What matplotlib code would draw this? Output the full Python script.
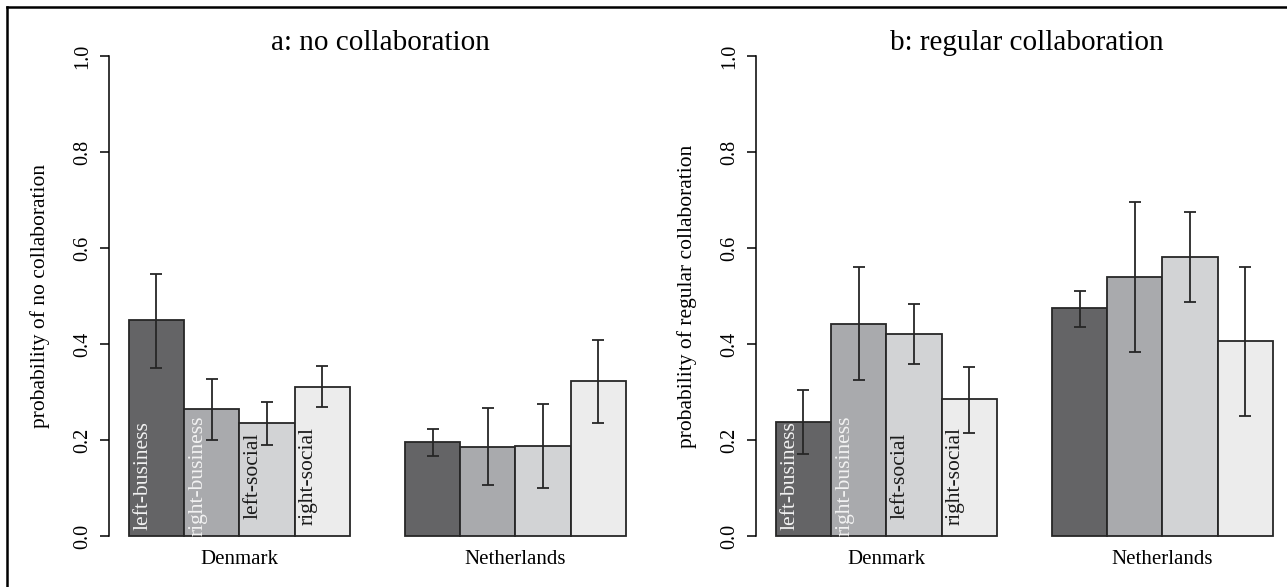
import numpy as np
import matplotlib
matplotlib.use('Agg')
import matplotlib.pyplot as plt
from matplotlib.lines import Line2D

plt.rcParams['font.family'] = ['Liberation Serif', 'DejaVu Serif']

countries = ['Denmark', 'Netherlands']
party_types = ['left-business', 'right-business', 'left-social', 'right-social']

# estimates and interval bounds, one row per country
no_collab = [[0.449, 0.264, 0.235, 0.311],
             [0.195, 0.185, 0.188, 0.322]]
no_collab_lo = [[0.350, 0.199, 0.190, 0.268],
                [0.167, 0.106, 0.100, 0.235]]
no_collab_hi = [[0.546, 0.327, 0.279, 0.354],
                [0.223, 0.266, 0.275, 0.409]]

reg_collab = [[0.238, 0.442, 0.421, 0.285],
              [0.474, 0.540, 0.581, 0.407]]
reg_collab_lo = [[0.171, 0.324, 0.359, 0.215],
                 [0.435, 0.383, 0.487, 0.251]]
reg_collab_hi = [[0.305, 0.560, 0.484, 0.353],
                 [0.511, 0.696, 0.676, 0.561]]

bar_colors = ['#646466', '#a9aaad', '#d2d3d5', '#ececec']
label_colors = ['#f2f2f2', '#f2f2f2', '#1a1a1a', '#1a1a1a']
edge = '#262626'

W, H = 1287, 587
fig = plt.figure(figsize=(W / 100, H / 100), dpi=100)


def panel(rect, vals, lo, hi, title, ylabel):
    ax = fig.add_axes(rect)
    for g in range(len(countries)):
        left = 1 + 5 * g + np.arange(len(party_types))
        v = np.array(vals[g])
        ax.bar(left, v, width=1, align='edge', color=bar_colors,
               edgecolor=edge, linewidth=1.3, zorder=2)
        err = [v - np.array(lo[g]), np.array(hi[g]) - v]
        ax.errorbar(left + 0.5, v, yerr=err, fmt='none', ecolor=edge,
                    elinewidth=1.3, capsize=4, capthick=1.3, zorder=3)
        if g == 0:
            for x, name, c in zip(left, party_types, label_colors):
                ax.text(x + 0.33, 0.125, name, rotation=90, rotation_mode='anchor',
                        ha='center', va='baseline', color=c, fontsize=15.5, zorder=4)

    ax.set_xlim(0.64, 10.36)
    ax.set_ylim(-0.04, 1.04)
    for s in ['top', 'right', 'bottom']:
        ax.spines[s].set_visible(False)
    ax.spines['left'].set_bounds(0, 1)
    ax.spines['left'].set_linewidth(1.1)

    ax.set_yticks(np.arange(0, 1.01, 0.2))
    ax.set_yticklabels(['%.1f' % t for t in np.arange(0, 1.01, 0.2)])
    ax.tick_params(axis='y', length=6.5, width=1.1, pad=5.5, labelsize=14.5)
    for lab in ax.get_yticklabels():
        lab.set_rotation(90)
        lab.set_va('center')

    ax.set_xticks([3, 8])
    ax.set_xticklabels(countries)
    ax.tick_params(axis='x', length=0, pad=-3.4, labelsize=15)

    ax.set_ylabel(ylabel, fontsize=15.5, va='center')
    ax.yaxis.set_label_coords(-0.128, 0.5)
    ax.text(5.55, 1.028, title, ha='center', va='center', fontsize=21)
    ax.patch.set_visible(False)
    return ax


bottom = (H - 555.2) / H
height = (555.2 - 36.8) / H
width = 536.8 / W
panel([109 / W, bottom, width, height], no_collab, no_collab_lo, no_collab_hi,
      'a: no collaboration', 'probability of no collaboration')
panel([756 / W, bottom, width, height], reg_collab, reg_collab_lo, reg_collab_hi,
      'b: regular collaboration', 'probability of regular collaboration')

# frame lines along the left and top edges
fx = 7.0 / W
fy = 1 - 6.5 / H
fig.add_artist(Line2D([fx, fx], [0, fy], color='black', lw=1.8))
fig.add_artist(Line2D([fx, 1], [fy, fy], color='black', lw=1.8))

fig.savefig('out.png', dpi=100)
